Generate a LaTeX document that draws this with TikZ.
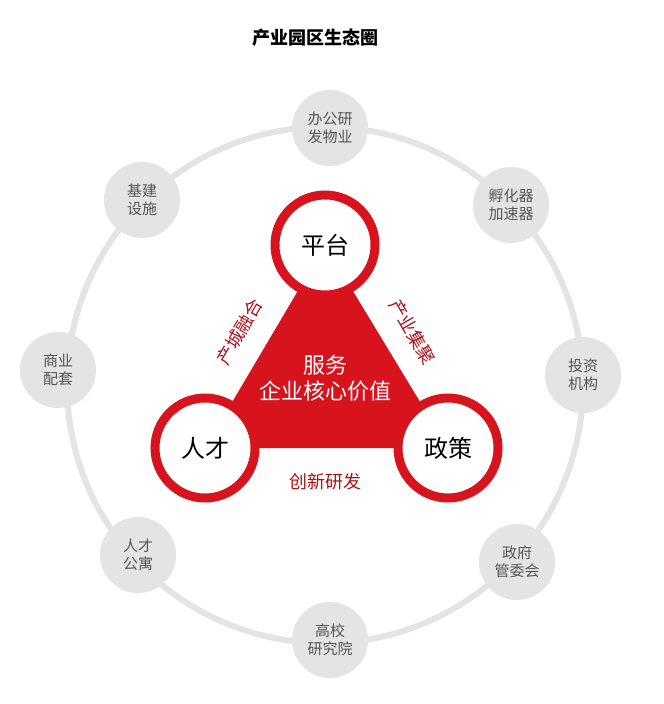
\documentclass[tikz,border=0pt]{standalone}
\usepackage{fontspec}
\setmainfont{Noto Sans CJK SC}
\begin{document}
\begin{tikzpicture}[x=0.5pt,y=-0.5pt]
\definecolor{rd}{HTML}{D7141E}
\definecolor{gr}{HTML}{E4E4E4}
\definecolor{tx}{HTML}{555555}
\tikzset{outer/.style={circle,fill=gr,minimum size=38pt,inner sep=0pt,text=tx,font=\fontsize{7.5}{9}\selectfont,align=center},
 core/.style={circle,fill=white,draw=rd,line width=4.5pt,minimum size=50pt,inner sep=0pt,font=\fontsize{12}{14}\selectfont},
 edgelbl/.style={text=rd!80!black,font=\fontsize{9}{11}\selectfont}}
\useasboundingbox (0,0) rectangle (663,704);
\node[font=\fontsize{9}{11}\selectfont\bfseries] (title) at (315,38) {产业园区生态圈};
\coordinate (c) at (325,385);
\draw[gr,line width=3pt] (c) circle[radius=258];
\node[outer] (n1) at (330,128) {办公研\\发物业};
\node[outer] (n2) at (511,205) {孵化器\\加速器};
\node[outer] (n3) at (583,375) {投资\\机构};
\node[outer] (n4) at (517,562) {政府\\管委会};
\node[outer] (n5) at (330,640) {高校\\研究院};
\node[outer] (n6) at (138,555) {人才\\公寓};
\node[outer] (n7) at (58,370) {商业\\配套};
\node[outer] (n8) at (142,200) {基建\\设施};
\fill[rd] (325,245) -- (205,448) -- (448,448) -- cycle;
\node[core] (p) at (325,245) {平台};
\node[core] (r) at (205,448) {人才};
\node[core] (z) at (448,448) {政策};
\node[text=white,font=\fontsize{11}{13}\selectfont,align=center] (m) at (325,378) {服务\\企业核心价值};
\node[edgelbl,rotate=60] (l1) at (240,332) {产城融合};
\node[edgelbl,rotate=-60] (l2) at (412,332) {产业集聚};
\node[edgelbl] (l3) at (325,482) {创新研发};
\end{tikzpicture}
\end{document}
